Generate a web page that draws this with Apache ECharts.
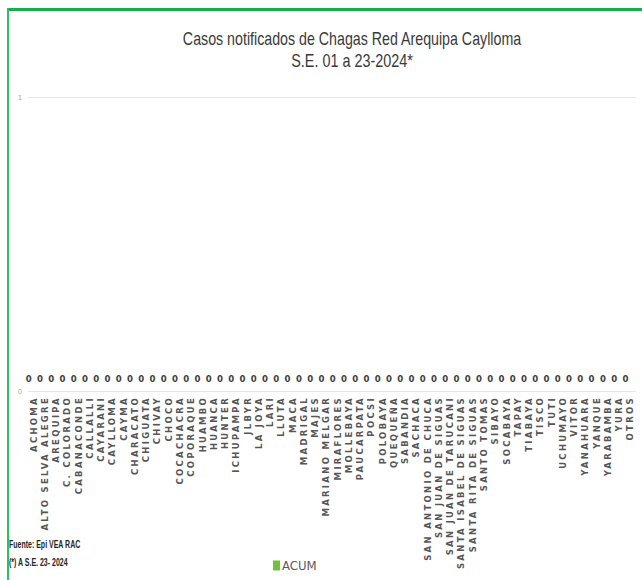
<!DOCTYPE html>
<html>
<head>
<meta charset="utf-8">
<script src="https://cdn.jsdelivr.net/npm/echarts@6/dist/echarts.min.js"></script>
<style>
  html, body { margin: 0; padding: 0; background: #fff; }
  #chart { width: 642px; height: 580px; }
  /* wide tracking for the district names */
  #chart text[fill="#555556"] { letter-spacing: 2.3px; }
</style>
</head>
<body>
<div id="chart"></div>
<script>
const districts = [
  'ACHOMA', 'ALTO SELVA ALEGRE', 'AREQUIPA', 'C. COLORADO', 'CABANACONDE',
  'CALLALLI', 'CAYARANI', 'CAYLLOMA', 'CAYMA', 'CHARACATO', 'CHIGUATA',
  'CHIVAY', 'CHOCO', 'COCACHACRA', 'COPORAQUE', 'HUAMBO', 'HUANCA',
  'HUNTER', 'ICHUPAMPA', 'JLBYR', 'LA JOYA', 'LARI', 'LLUTA', 'MACA',
  'MADRIGAL', 'MAJES', 'MARIANO MELGAR', 'MIRAFLORES', 'MOLLEBAYA',
  'PAUCARPATA', 'POCSI', 'POLOBAYA', 'QUEQUEÑA', 'SABANDIA', 'SACHACA',
  'SAN ANTONIO DE CHUCA', 'SAN JUAN DE SIGUAS', 'SAN JUAN DE TARUCANI',
  'SANTA ISABEL DE SIGUAS', 'SANTA RITA DE SIGUAS', 'SANTO TOMAS', 'SIBAYO',
  'SOCABAYA', 'TAPAY', 'TIABAYA', 'TISCO', 'TUTI', 'UCHUMAYO', 'VITOR',
  'YANAHUARA', 'YANQUE', 'YARABAMBA', 'YURA', 'OTROS'
];
// accumulated cases per district
const acum = [
  0, 0, 0, 0, 0, 0, 0, 0, 0, 0, 0, 0, 0, 0, 0, 0, 0, 0,
  0, 0, 0, 0, 0, 0, 0, 0, 0, 0, 0, 0, 0, 0, 0, 0, 0, 0,
  0, 0, 0, 0, 0, 0, 0, 0, 0, 0, 0, 0, 0, 0, 0, 0, 0, 0
];
const yTicks = { min: 0, max: 1, step: 1 };
const titleLines = ['Casos notificados de Chagas Red Arequipa Caylloma', 'S.E. 01 a 23-2024*'];
const notes = ['Fuente: Epi VEA RAC', '(*) A S.E. 23- 2024'];

const sans = '"Liberation Sans", Arial, sans-serif';
const cond = '"DejaVu Sans Condensed", "Liberation Sans Narrow", "Liberation Sans", sans-serif';
const chart = echarts.init(document.getElementById('chart'), null, { renderer: 'svg' });

// condensed text line (horizontal squeeze)
function squeezed(text, x, y, size, weight, color, sx, align) {
  return {
    type: 'text', x: x, y: y, scaleX: sx, silent: true,
    style: {
      text: text, fontFamily: sans, fontSize: size, fontWeight: weight,
      fill: color, align: align, verticalAlign: 'middle'
    }
  };
}

chart.setOption({
  backgroundColor: '#fff',
  animation: false,
  legend: {
    bottom: 3, left: 268,
    itemWidth: 7, itemHeight: 10, itemGap: 3,
    icon: 'rect',
    textStyle: { fontFamily: cond, fontSize: 13, color: '#595959', padding: [0, 0, 0, -3] },
    data: ['ACUM']
  },
  grid: { left: 28, right: 6, top: 97, bottom: 189, containLabel: false },
  xAxis: {
    type: 'category',
    data: districts,
    axisLine: { show: false },
    axisTick: { show: false },
    axisLabel: {
      rotate: 90, interval: 0, margin: 5,
      fontFamily: '"DejaVu Sans", Verdana, sans-serif',
      fontWeight: 'bold', fontSize: 8.5, color: '#555556'
    }
  },
  yAxis: {
    type: 'value',
    min: yTicks.min, max: yTicks.max, interval: yTicks.step,
    axisLine: { show: false },
    axisTick: { show: false },
    axisLabel: { fontSize: 7, color: '#a0a0a0', margin: 6 },
    splitLine: { lineStyle: { color: '#e6e6e6', width: 1 } }
  },
  series: [{
    name: 'ACUM',
    type: 'bar',
    data: acum,
    barWidth: '60%',
    itemStyle: { color: '#72c23a' },
    label: {
      show: true, position: 'top', distance: 8, offset: [-5, 0],
      fontFamily: cond, fontWeight: 'bold', fontSize: 9.5, color: '#404040'
    }
  }],
  graphic: [
    { type: 'rect', shape: { x: 7, y: 8, width: 640, height: 3 }, style: { fill: '#12b04c' }, silent: true },
    { type: 'rect', shape: { x: 7, y: 8, width: 2, height: 580 }, style: { fill: '#2cc063' }, silent: true },
    squeezed(titleLines[0], 352, 38, 18, 'normal', '#3a3a3a', 0.79, 'center'),
    squeezed(titleLines[1], 352, 60, 18, 'normal', '#3a3a3a', 0.8, 'center'),
    squeezed(notes[0], 9, 545, 10, 'bold', '#262626', 0.7, 'left'),
    squeezed(notes[1], 9, 563, 10, 'bold', '#262626', 0.7, 'left')
  ]
});
</script>
</body>
</html>
